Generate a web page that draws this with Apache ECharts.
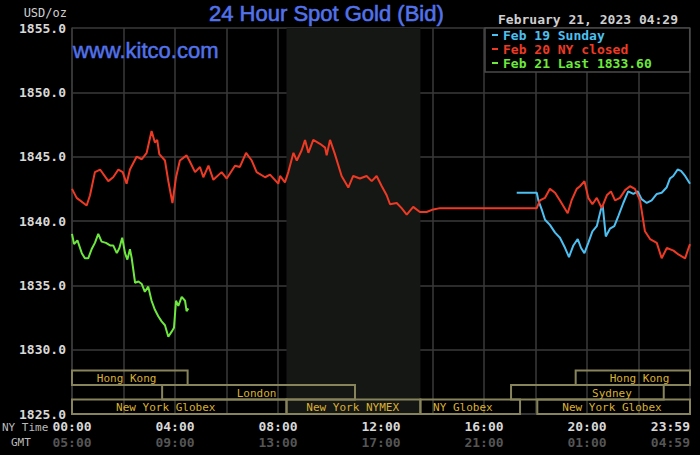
<!DOCTYPE html>
<html>
<head>
<meta charset="utf-8">
<script src="https://cdn.jsdelivr.net/npm/echarts@6/dist/echarts.min.js"></script>
<style>
  html, body { margin: 0; padding: 0; background: #000; }
  #chart { width: 700px; height: 455px; }
</style>
</head>
<body>
<div id="chart"></div>
<script>
// labels
var chartTitle = '24 Hour Spot Gold (Bid)';
var siteName = 'www.kitco.com';
var stampText = 'February 21, 2023 04:29';
var unitName = 'USD/oz';
var nyTimeLabels = ['00:00', '04:00', '08:00', '12:00', '16:00', '20:00', '23:59'];
var gmtLabels = ['05:00', '09:00', '13:00', '17:00', '21:00', '01:00', '04:59'];

// series: [hour (NY time), price]
var feb19Name = 'Feb 19 Sunday';
var feb19 = [[17.27,1842.2],[18.05,1842.2],[18.11,1841.6],[18.24,1840.9],[18.37,1840.1],[18.56,1839.7],[18.76,1839.1],[18.95,1838.7],[19.15,1837.9],[19.30,1837.2],[19.47,1838.1],[19.64,1838.6],[19.77,1837.9],[19.90,1837.5],[20.05,1838.3],[20.21,1839.2],[20.38,1839.6],[20.54,1840.9],[20.61,1841.2],[20.73,1838.8],[20.89,1839.4],[21.06,1839.6],[21.22,1840.4],[21.41,1841.4],[21.60,1842.3],[21.80,1842.1],[21.97,1842.3],[22.12,1841.7],[22.32,1841.4],[22.51,1841.6],[22.71,1842.1],[22.90,1842.2],[23.09,1842.6],[23.22,1843.3],[23.35,1843.5],[23.52,1844.0],[23.65,1843.9],[23.81,1843.5],[24,1842.9]];

var feb20Name = 'Feb 20 NY closed';
var feb20 = [[0,1842.5],[0.18,1841.8],[0.57,1841.2],[0.70,1842.0],[0.89,1843.8],[1.09,1844.0],[1.41,1843.1],[1.60,1843.4],[1.80,1844.0],[1.97,1843.8],[2.12,1842.9],[2.25,1844.0],[2.51,1845.0],[2.71,1844.8],[2.90,1845.3],[3.09,1847.0],[3.22,1846.1],[3.31,1846.3],[3.39,1845.2],[3.61,1844.7],[3.74,1843.1],[3.90,1841.4],[4.04,1843.4],[4.19,1844.7],[4.45,1845.1],[4.58,1844.6],[4.78,1843.8],[4.97,1844.2],[5.10,1843.4],[5.30,1844.3],[5.49,1843.2],[5.81,1843.8],[6.01,1843.3],[6.33,1844.3],[6.52,1844.2],[6.76,1845.3],[6.98,1844.7],[7.17,1843.8],[7.50,1843.4],[7.69,1843.6],[8.01,1842.9],[8.08,1843.5],[8.27,1843.0],[8.40,1843.8],[8.60,1845.3],[8.73,1844.7],[8.92,1845.5],[9.05,1846.3],[9.18,1845.3],[9.37,1846.3],[9.63,1846.0],[9.83,1845.7],[9.89,1845.1],[10.02,1846.3],[10.21,1845.2],[10.47,1843.5],[10.73,1842.6],[10.92,1843.5],[11.18,1843.3],[11.44,1843.5],[11.64,1843.1],[11.83,1843.5],[12.03,1842.7],[12.22,1842.0],[12.35,1841.3],[12.61,1841.4],[12.80,1841.0],[13.00,1840.5],[13.25,1841.1],[13.51,1840.7],[13.77,1840.7],[14.03,1840.9],[14.29,1841.0],[14.55,1841.0],[18.05,1841.0],[18.17,1841.6],[18.37,1841.8],[18.56,1842.5],[18.76,1842.2],[18.95,1841.6],[19.25,1840.6],[19.40,1841.6],[19.60,1842.5],[19.73,1842.7],[19.90,1843.1],[20.05,1841.8],[20.21,1841.3],[20.38,1841.8],[20.57,1841.0],[20.77,1842.0],[20.93,1842.3],[21.09,1841.6],[21.28,1841.8],[21.48,1842.4],[21.67,1842.7],[21.86,1842.5],[22.06,1841.6],[22.25,1839.2],[22.45,1838.6],[22.71,1838.3],[22.90,1837.1],[23.10,1837.9],[23.36,1837.7],[23.55,1837.4],[23.81,1837.1],[23.91,1837.7],[24,1838.2]];

var feb21Name = 'Feb 21 Last 1833.60';
var feb21 = [[0,1839.0],[0.08,1838.2],[0.21,1838.5],[0.38,1837.5],[0.50,1837.1],[0.63,1837.1],[0.76,1837.8],[0.89,1838.3],[1.02,1839.0],[1.15,1838.4],[1.32,1838.3],[1.48,1838.1],[1.60,1838.1],[1.74,1837.5],[1.84,1837.9],[1.95,1838.7],[2.06,1837.5],[2.15,1837.0],[2.25,1837.8],[2.32,1837.1],[2.45,1835.2],[2.58,1835.3],[2.71,1835.1],[2.83,1834.5],[2.96,1834.9],[3.09,1833.8],[3.22,1833.1],[3.35,1832.6],[3.48,1832.2],[3.61,1831.9],[3.74,1831.0],[3.87,1831.4],[3.96,1831.7],[4.04,1833.8],[4.13,1833.4],[4.26,1834.1],[4.39,1833.8],[4.45,1833.0],[4.52,1833.2]];

// NYMEX floor hours (shaded)
var nymexHours = [8.33, 13.53];

// market sessions: row 0 is the bottom strip
var sessionNames = ['New York Globex', 'New York NYMEX', 'NY Globex', 'New York Globex', 'London', 'Sydney', 'Hong Kong', 'Hong Kong'];
var sessionStart = [0, 8.33, 13.53, 18.07, 3.5, 17.05, 0, 19.56];
var sessionEnd = [8.33, 13.53, 17.4, 24, 10.99, 22.98, 4.49, 24];
var sessionLabelAt = [3.64, 10.9, 15.18, 20.97, 7.17, 20.97, 2.12, 22.04];
var sessionRow = [0, 0, 0, 0, 1, 1, 2, 2];

var mono = '"DejaVu Sans Mono", monospace';
var sans = '"Liberation Sans", Arial, sans-serif';
var gridColor = '#3a3a3a';
var titleBlue = '#5272ea';

var chart = echarts.init(document.getElementById('chart'), null, { renderer: 'svg' });

var sessionData = sessionNames.map(function(n, i) {
    return { name: n, value: [sessionStart[i], sessionEnd[i], sessionLabelAt[i]] };
});

var option = {
    backgroundColor: '#000',
    animation: false,
    title: [{
        text: chartTitle,
        left: 209, top: 2, padding: 0,
        textStyle: { color: titleBlue, fontSize: 22, fontWeight: 'normal', fontFamily: sans,
            textBorderColor: titleBlue, textBorderWidth: 0.6 }
    }, {
        text: siteName,
        left: 73, top: 39, padding: 0,
        textStyle: { color: titleBlue, fontSize: 22, fontWeight: 'normal', fontFamily: sans,
            textBorderColor: titleBlue, textBorderWidth: 0.5 }
    }, {
        text: stampText,
        left: 498, top: 13, padding: 0,
        textStyle: { color: '#cfcfcf', fontSize: 13, fontWeight: 'bold', fontFamily: mono }
    }],
    legend: {
        orient: 'vertical',
        left: 485, top: 28,
        padding: [0, 38, 2, 7],
        itemGap: 0,
        itemWidth: 6, itemHeight: 2,
        icon: 'rect',
        backgroundColor: '#000',
        borderColor: '#4a4a4a', borderWidth: 1.5,
        textStyle: { fontSize: 13, fontWeight: 'bold', fontFamily: mono, lineHeight: 14 },
        data: [
            { name: feb19Name, textStyle: { color: '#4cc0f2' } },
            { name: feb20Name, textStyle: { color: '#ee3a24' } },
            { name: feb21Name, textStyle: { color: '#6ee83e' } }
        ]
    },
    grid: { left: 72, right: 10, top: 28, bottom: 41 },
    xAxis: {
        type: 'value',
        min: 0, max: 24, interval: 2,
        axisLine: { lineStyle: { color: gridColor, width: 1.5 } },
        axisTick: { show: false },
        splitLine: { show: true, lineStyle: { color: gridColor, width: 1.5 } },
        axisLabel: {
            margin: 4,
            alignMaxLabel: 'right',
            formatter: function(v) {
                if (v % 4 !== 0) return '';
                var i = v / 4;
                return '{ny|' + nyTimeLabels[i] + '}\n{gmt|' + gmtLabels[i] + '}';
            },
            rich: {
                ny: { color: '#d8d8d8', fontSize: 13, fontWeight: 'bold', fontFamily: mono, lineHeight: 16 },
                gmt: { color: '#555', fontSize: 13, fontWeight: 'bold', fontFamily: mono, lineHeight: 16 }
            }
        }
    },
    yAxis: {
        type: 'value',
        min: 1825, max: 1855, interval: 5,
        name: unitName,
        nameGap: 15,
        nameTextStyle: { color: '#cfcfcf', fontSize: 12, fontFamily: mono, align: 'right', verticalAlign: 'middle', padding: [0, 5, 0, 0] },
        axisLine: { show: true, lineStyle: { color: gridColor, width: 1.5 } },
        axisTick: { show: false },
        splitLine: { lineStyle: { color: gridColor, width: 1.5 } },
        axisLabel: {
            margin: 6,
            color: '#d8d8d8', fontSize: 13, fontWeight: 'bold', fontFamily: mono,
            formatter: function(v) { return v.toFixed(1); }
        }
    },
    graphic: [{
        type: 'text', left: 2, top: 422,
        style: { text: 'NY Time', fill: '#bbb', font: '11px ' + mono }
    }, {
        type: 'text', left: 11, top: 437,
        style: { text: 'GMT', fill: '#bbb', font: '11px ' + mono }
    }],
    series: [{
        name: feb19Name,
        type: 'line',
        data: feb19,
        showSymbol: false,
        color: '#4cc0f2',
        lineStyle: { width: 2 },
        z: 3,
        markArea: {
            silent: true,
            itemStyle: { color: '#151715' },
            data: [[{ xAxis: nymexHours[0] }, { xAxis: nymexHours[1] }]]
        }
    }, {
        name: feb20Name,
        type: 'line',
        data: feb20,
        showSymbol: false,
        color: '#ee3a24',
        lineStyle: { width: 2 },
        z: 3
    }, {
        name: feb21Name,
        type: 'line',
        data: feb21,
        showSymbol: false,
        color: '#6ee83e',
        lineStyle: { width: 2 },
        z: 3
    }, {
        type: 'custom',
        silent: true,
        z: 2,
        encode: { x: [0, 1, 2] },
        data: sessionData,
        renderItem: function(params, api) {
            var i = params.dataIndex;
            var cs = params.coordSys;
            var x0 = api.coord([api.value(0), 1825])[0];
            var x1 = api.coord([api.value(1), 1825])[0];
            var xl = api.coord([api.value(2), 1825])[0];
            var h = 14.5;
            var top = cs.y + cs.height - (sessionRow[i] + 1) * h;
            return {
                type: 'group',
                children: [{
                    type: 'rect',
                    shape: { x: x0, y: top, width: x1 - x0, height: h },
                    style: { fill: 'none', stroke: '#87835b', lineWidth: 2 }
                }, {
                    type: 'text',
                    style: {
                        text: sessionNames[i], x: xl, y: top + h / 2 + 1,
                        align: 'center', verticalAlign: 'middle',
                        fill: '#dab032', font: '11px ' + mono
                    }
                }]
            };
        }
    }]
};

chart.setOption(option);
</script>
</body>
</html>
